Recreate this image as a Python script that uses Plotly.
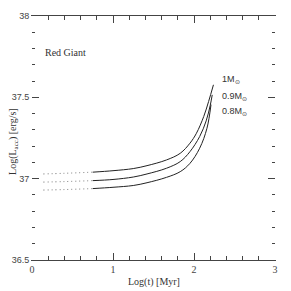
import plotly.graph_objects as go

# Data
logt_10 = [0.14, 0.40, 0.75, 1.00, 1.25, 1.42, 1.66, 1.83, 1.95, 2.03, 2.12, 2.18, 2.24]
L_10 = [37.029, 37.033, 37.040, 37.049, 37.062, 37.080, 37.115, 37.156, 37.218, 37.279, 37.382, 37.474, 37.577]

logt_09 = [0.14, 0.40, 0.75, 1.00, 1.25, 1.42, 1.66, 1.83, 1.95, 2.07, 2.15, 2.20, 2.225]
L_09 = [36.979, 36.982, 36.988, 36.995, 37.010, 37.029, 37.064, 37.105, 37.166, 37.259, 37.355, 37.45, 37.515]

logt_08 = [0.14, 0.40, 0.75, 1.00, 1.25, 1.42, 1.66, 1.83, 1.95, 2.07, 2.16, 2.21]
L_08 = [36.930, 36.933, 36.939, 36.947, 36.958, 36.975, 37.008, 37.043, 37.094, 37.187, 37.31, 37.455]

labels = ["1M<sub>⊙</sub>", "0.9M<sub>⊙</sub>", "0.8M<sub>⊙</sub>"]
label_x = [2.32, 2.32, 2.32]
label_y = [37.61, 37.505, 37.413]

x_ticks = [0, 1, 2, 3]
y_ticks = [36.5, 37, 37.5, 38]

DOT_END = 3  # first points drawn dotted

fig = go.Figure()
for xs, ys in [(logt_10, L_10), (logt_09, L_09), (logt_08, L_08)]:
    fig.add_trace(go.Scatter(x=xs[:DOT_END], y=ys[:DOT_END], mode="lines",
                             line=dict(color="#555", width=0.8, dash="1px,3px", shape="spline"),
                             showlegend=False, hoverinfo="skip"))
    fig.add_trace(go.Scatter(x=xs[DOT_END - 1:], y=ys[DOT_END - 1:], mode="lines",
                             line=dict(color="#222", width=1, shape="spline"),
                             showlegend=False, hoverinfo="skip"))

for t, lx, ly in zip(labels, label_x, label_y):
    fig.add_annotation(x=lx, y=ly, text=t, showarrow=False, xanchor="left",
                       font=dict(family="Liberation Sans", size=9, color="#333"))

fig.add_annotation(x=0.14, y=37.774, text="Red Giant", showarrow=False, xanchor="left",
                   font=dict(family="Liberation Serif", size=10, color="#333"))

fig.add_annotation(x=0.5, y=-0.09, xref="paper", yref="paper", yanchor="middle",
                   text="Log(t) [Myr]", showarrow=False,
                   font=dict(family="Liberation Serif", size=10, color="#333"))
fig.add_annotation(x=-0.074, y=0.484, xref="paper", yref="paper", xanchor="center",
                   text="Log(L<sub>acc</sub>) [erg/s]", showarrow=False, textangle=-90,
                   font=dict(family="Liberation Serif", size=10, color="#333"))

axis_common = dict(ticks="inside", tickcolor="#444", tickwidth=1, automargin=False,
                   showgrid=False, zeroline=False)

fig.update_xaxes(range=[0, 3], tickvals=x_ticks, ticklen=7, showline=True, mirror="allticks",
                 linecolor="#444", linewidth=1,
                 tickfont=dict(family="Liberation Serif", size=10, color="#444"),
                 minor=dict(dtick=0.2, ticks="inside", ticklen=4, tickcolor="#444"),
                 **axis_common)
fig.update_yaxes(range=[36.5, 38], tickvals=y_ticks, ticklen=7, showline=True, mirror="allticks",
                 linecolor="rgba(0,0,0,0)",
                 tickfont=dict(family="Liberation Sans", size=9, color="#444"),
                 minor=dict(dtick=0.1, ticks="inside", ticklen=3, tickcolor="#444"),
                 **axis_common)

# page has an 8px body margin, so the figure is offset by 8px
fig.update_layout(width=283, height=283, margin=dict(l=24, r=16, t=8, b=31),
                  plot_bgcolor="white", paper_bgcolor="white")

fig.write_html("out.html")
